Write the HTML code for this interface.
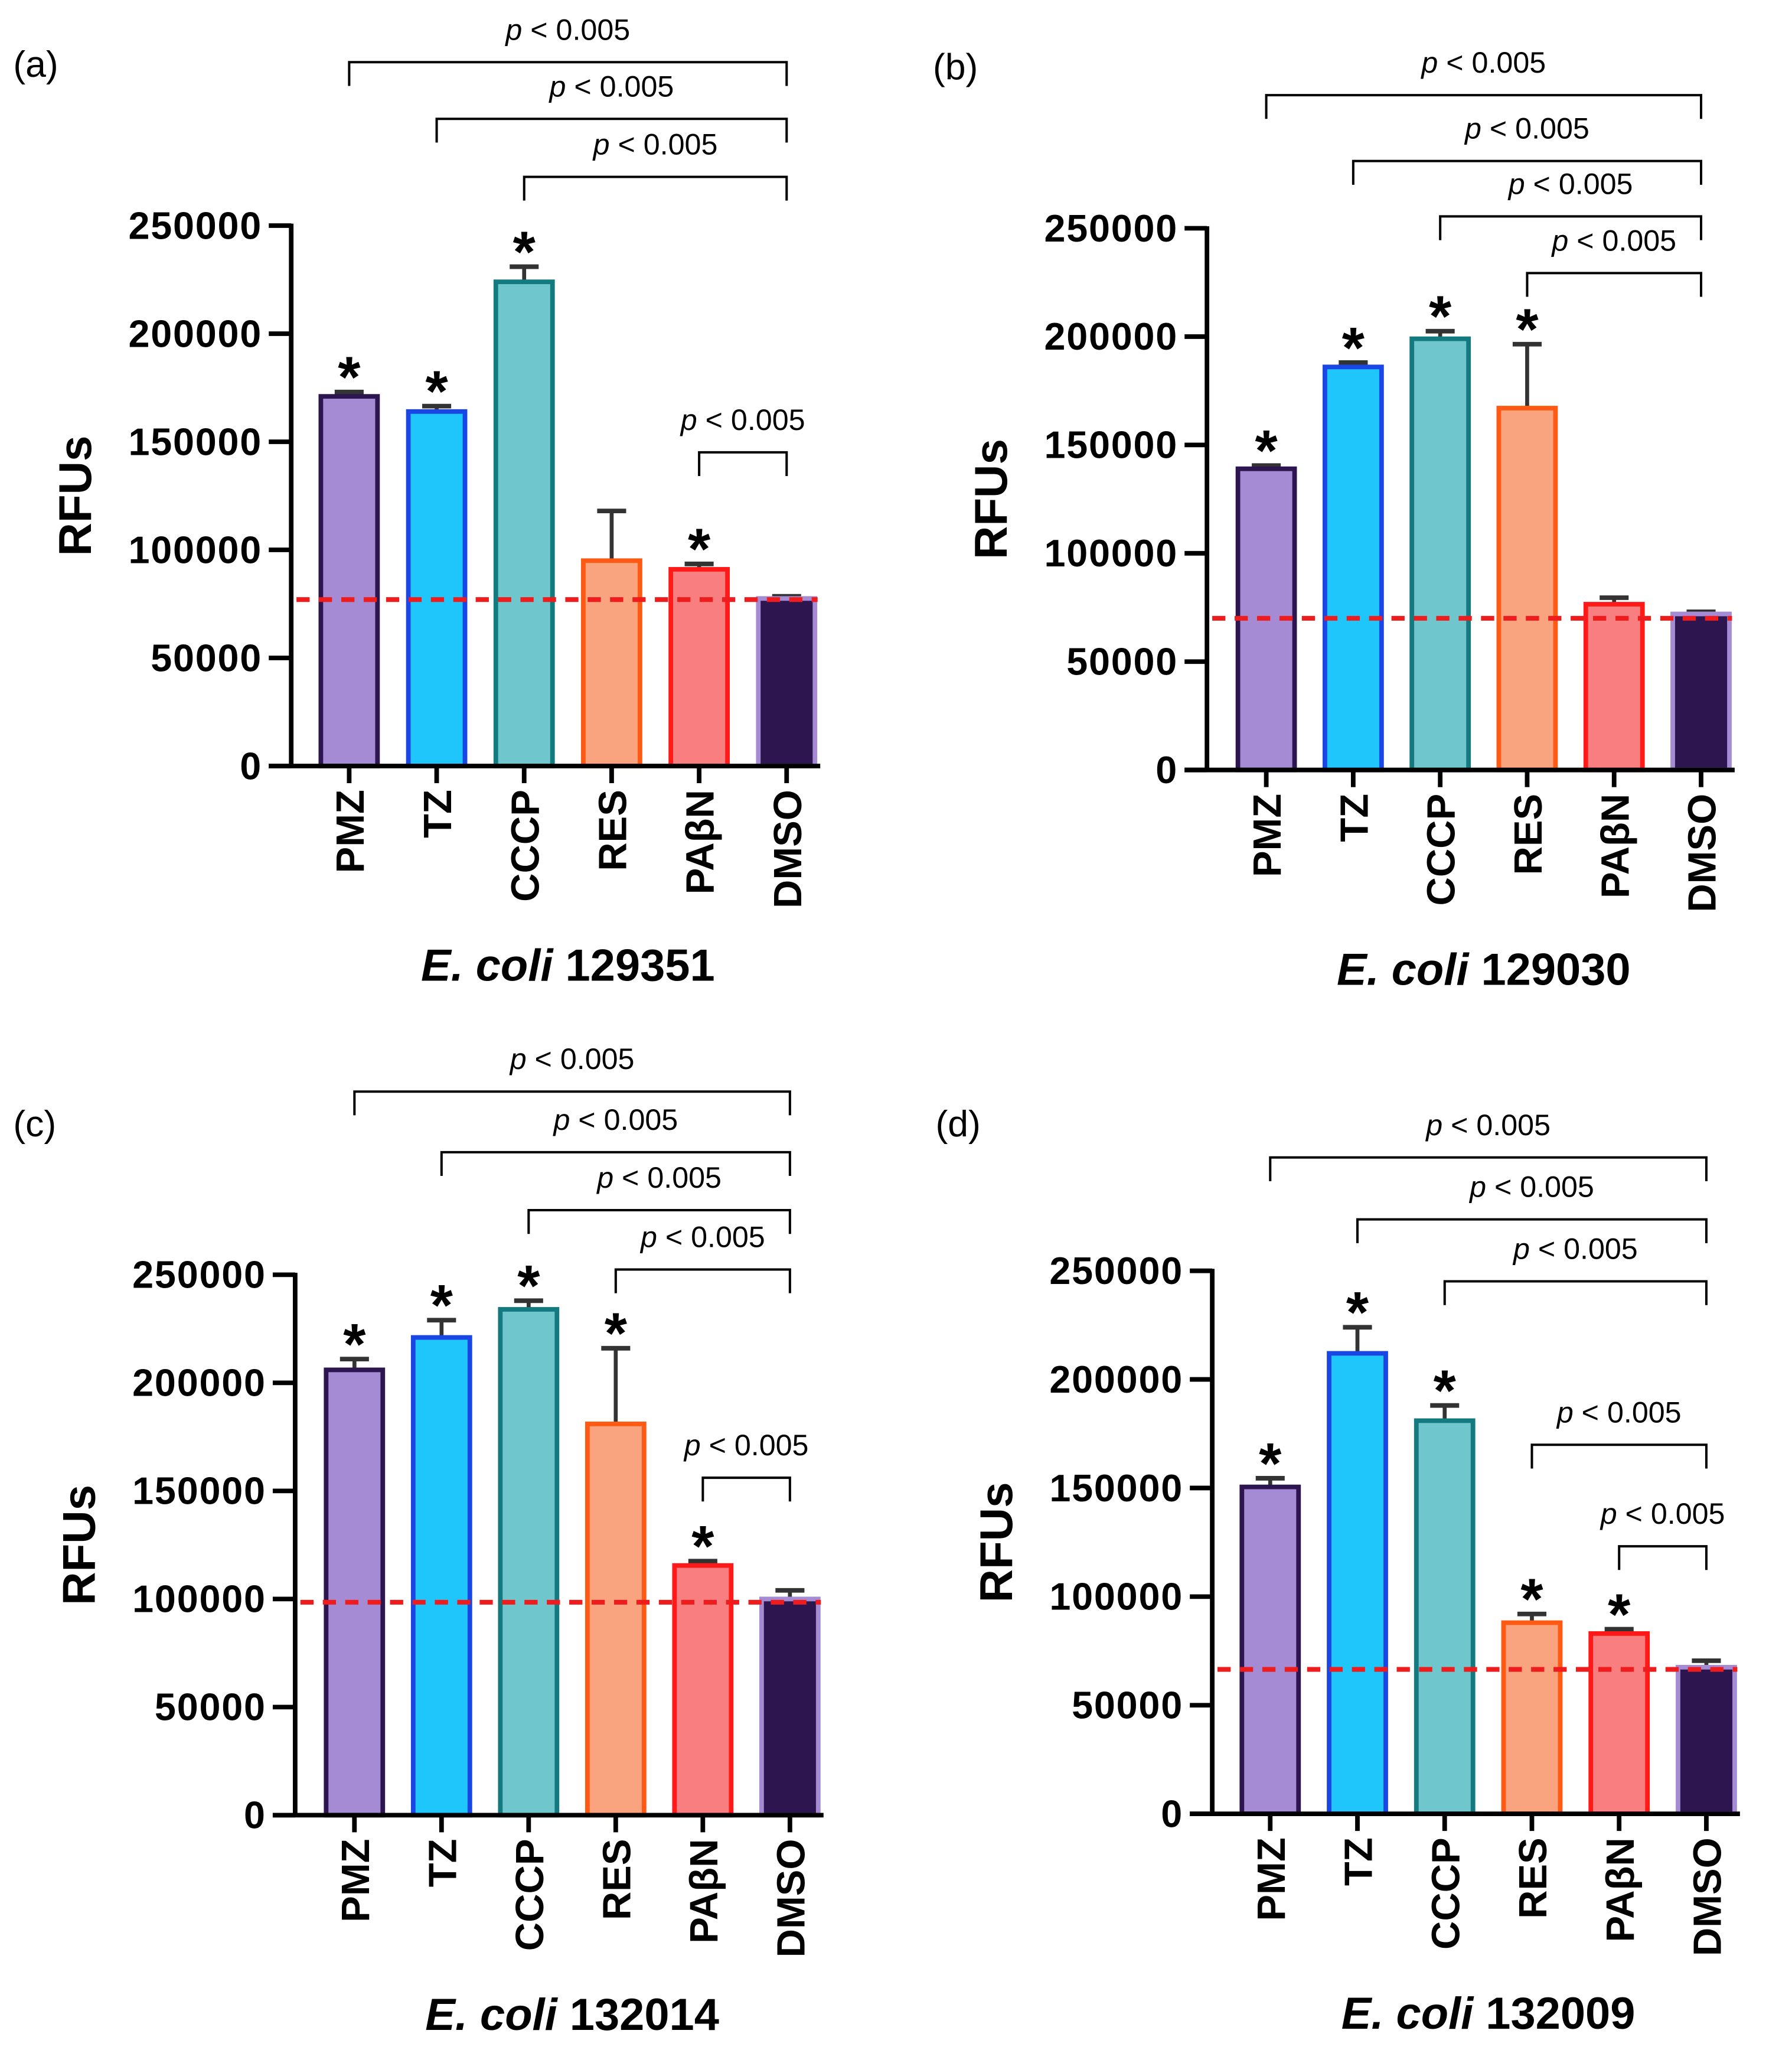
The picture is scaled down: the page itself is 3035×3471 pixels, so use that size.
<!DOCTYPE html>
<html><head><meta charset="utf-8"><style>
html,body{margin:0;padding:0;background:#fff}
svg{display:block}
text{font-family:"Liberation Sans",Arial,sans-serif}
</style></head><body>
<svg id="fig" width="3035" height="3471" viewBox="0 0 1360 1555" xmlns="http://www.w3.org/2000/svg"></svg>
<script>
const categories = ["PMZ","TZ","CCCP","RES","PA\u03b2N","DMSO"];
const yTicks = [0,50000,100000,150000,200000,250000];
const tickLabels = ["0","50000","100000","150000","200000","250000"];
const valuesA = [171000,164000,224000,95000,91000,77500];
const errA = [173000,166500,231000,118000,93500,78500];
const baseA = 77000;
const starsA = [1,1,1,0,1,0];
const valuesB = [139000,186000,199000,167000,76500,72000];
const errB = [140500,188000,202500,196500,79500,73000];
const baseB = 70000;
const starsB = [1,1,1,1,0,0];
const valuesC = [206000,221000,234000,181000,115500,100000];
const errC = [211000,229000,238000,216000,117500,104000];
const baseC = 98500;
const starsC = [1,1,1,1,1,0];
const valuesD = [150500,212000,181000,88000,83000,67500];
const errD = [154500,224000,188000,92000,85000,70500];
const baseD = 66500;
const starsD = [1,1,1,1,1,0];
const fills = ["#a48bd4","#1ec6fc","#6fc6cc","#f9a47e","#f97e80","#2d1650"];
const strokes = ["#2d1650","#1a46e6","#137a80","#ff5a14","#ff1a1a","#a48bd4"];

const NS="http://www.w3.org/2000/svg";
const svg=document.getElementById('fig');
function mk(tag,attrs,parent,txt){const e=document.createElementNS(NS,tag);for(const k in attrs)e.setAttribute(k,attrs[k]);if(txt!==undefined)e.textContent=txt;(parent||svg).appendChild(e);return e;}

const panels=[
 {id:'a',letter:'(a)',lx:10,ly:58,ax:221,y0:581,yT:171,x0:265,dx:66.4,title:'129351',vals:valuesA,err:errA,base:baseA,stars:starsA,
  br:[[0,47],[1,90],[2,134],[4,343]]},
 {id:'b',letter:'(b)',lx:708,ly:60,ax:916,y0:584,yT:173,x0:961,dx:66,title:'129030',vals:valuesB,err:errB,base:baseB,stars:starsB,
  br:[[0,72],[1,122],[2,164],[3,207]]},
 {id:'c',letter:'(c)',lx:10,ly:862,ax:224,y0:1377,yT:967,x0:269,dx:66.1,title:'132014',vals:valuesC,err:errC,base:baseC,stars:starsC,
  br:[[0,828],[1,874],[2,918],[3,963],[4,1121]]},
 {id:'d',letter:'(d)',lx:710,ly:862,ax:920,y0:1376,yT:964,x0:964,dx:66.2,title:'132009',vals:valuesD,err:errD,base:baseD,stars:starsD,
  br:[[0,878],[1,925],[2,972],[3,1096],[4,1173]]}
];

panels.forEach(p=>{
  const g=mk('g',{});
  
  
  const y=v=>p.y0-(v/250000)*(p.y0-p.yT);
  const x=i=>p.x0+i*p.dx;
  const bw=43;
  const L=mk('text',{x:p.lx,y:p.ly,'font-size':28},g,p.letter);
  
  
  p.vals.forEach((v,i)=>{
    const e=mk('line',{x1:x(i),x2:x(i),y1:y(v),y2:y(p.err[i]),stroke:'#333','stroke-width':3},g);
    
    
    mk('line',{x1:x(i)-11,x2:x(i)+11,y1:y(p.err[i]),y2:y(p.err[i]),stroke:'#333','stroke-width':3.5},g);
    const r=mk('rect',{x:x(i)-bw/2,y:y(v),width:bw,height:p.y0-y(v),fill:fills[i],stroke:strokes[i],'stroke-width':3.5},g);
    
    
    if(p.stars[i]){
      const s=mk('text',{x:x(i),y:y(p.err[i])+4,'font-size':44,'font-weight':'bold','text-anchor':'middle'},g,'*');
      
      
    }
  });
  const d=mk('line',{x1:p.ax+4,x2:x(5)+bw/2+2,y1:y(p.base),y2:y(p.base),stroke:'#ee1c1c','stroke-width':3.6,'stroke-dasharray':'10,7'},g);
  
  
  const ya=mk('line',{x1:p.ax,x2:p.ax,y1:p.yT-1.5,y2:p.y0+1.5,stroke:'#000','stroke-width':3.5},g);
  
  
  const xa=mk('line',{x1:p.ax-17,x2:x(5)+bw/2+4,y1:p.y0,y2:p.y0,stroke:'#000','stroke-width':3.5},g);
  
  
  yTicks.forEach((t,k)=>{
    mk('line',{x1:p.ax-17,x2:p.ax,y1:y(t),y2:y(t),stroke:'#000','stroke-width':3.5},g);
    const tl=mk('text',{x:p.ax-22,y:y(t)+10,'font-size':29,'font-weight':'bold','text-anchor':'end','letter-spacing':0.8},g,tickLabels[k]);
    
    
  });
  categories.forEach((c,i)=>{
    mk('line',{x1:x(i),x2:x(i),y1:p.y0,y2:p.y0+13,stroke:'#000','stroke-width':3.5},g);
    const t=mk('text',{x:0,y:0,'font-size':30,'font-weight':'bold','text-anchor':'end',transform:`translate(${x(i)+11},${p.y0+18}) rotate(-90)`},g,c);
    
    
  });
  const yl=mk('text',{x:0,y:0,'font-size':35,'font-weight':'bold','text-anchor':'middle',transform:`translate(${p.ax-152},${(p.y0+p.yT)/2}) rotate(-90)`},g,'RFUs');
  
  
  const tt=mk('text',{x:(x(0)+x(5))/2,y:p.y0+163,'font-size':34,'font-weight':'bold','text-anchor':'middle'},g);
  
  
  mk('tspan',{'font-style':'italic'},tt,'E. coli');
  mk('tspan',{},tt,' '+p.title);
  p.br.forEach(b=>{
    const xs=x(b[0]), xe=x(5), yb=b[1];
    const pl=mk('polyline',{points:`${xs},${yb+18} ${xs},${yb} ${xe},${yb} ${xe},${yb+18}`,fill:'none',stroke:'#000','stroke-width':1.8},g);
    
    
    const lt=mk('text',{x:(xs+xe)/2,y:yb-17,'font-size':22.5,'text-anchor':'middle'},g);
    
    
    mk('tspan',{'font-style':'italic'},lt,'p');
    mk('tspan',{},lt,' < 0.005');
  });
});
</script>
</body></html>
